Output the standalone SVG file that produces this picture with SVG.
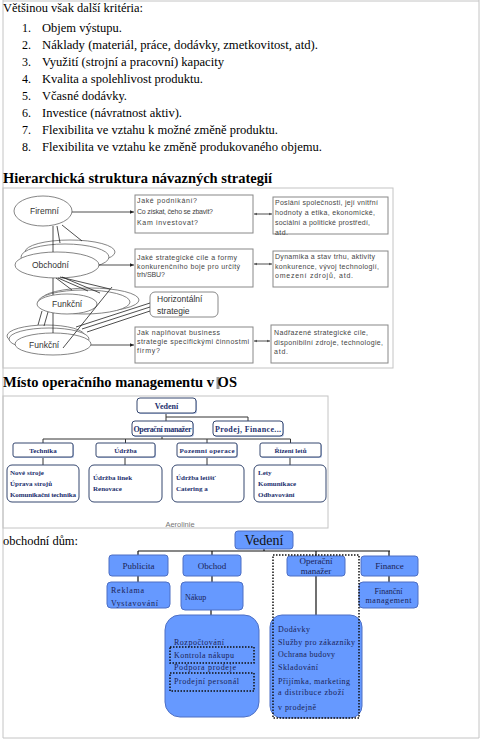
<svg xmlns="http://www.w3.org/2000/svg" width="481" height="741" viewBox="0 0 481 741">
<defs>
<marker id="ah" viewBox="0 0 6 6" refX="6" refY="3" markerWidth="5" markerHeight="5" orient="auto"><path d="M0,0.5 L6,3 L0,5.5 z" fill="#222"/></marker>
<marker id="ah2" viewBox="0 0 6 6" refX="6" refY="3" markerWidth="4" markerHeight="4" orient="auto-start-reverse"><path d="M0,0.5 L6,3 L0,5.5 z" fill="#555"/></marker>
<style>
.t12{font-family:"Liberation Serif","Times New Roman",serif;font-size:12px;fill:#000}
.h{font-family:"Liberation Serif","Times New Roman",serif;font-weight:bold;font-size:14px;fill:#000}
.hs{font-family:"Liberation Sans",Arial,sans-serif;font-size:7px;fill:#444}
.hl{font-family:"Liberation Sans",Arial,sans-serif;font-size:8.5px;fill:#333}
.hbox{fill:#fff;stroke:#888;stroke-width:1}
.ell{fill:#fff;stroke:#666;stroke-width:0.8}
.conn{stroke:#222;stroke-width:0.8;fill:none}
.frame{fill:none;stroke:#c4c4c4;stroke-width:1}
.obox{fill:#fff;stroke:#34466f;stroke-width:1}
.osh{fill:#b4c4e4}
.ot{font-family:"Liberation Serif","Times New Roman",serif;font-weight:bold;fill:#1c2f6e;font-size:8px}
.ot2{font-family:"Liberation Serif","Times New Roman",serif;font-weight:bold;fill:#1c2f6e;font-size:7px}
.oc{stroke:#333;stroke-width:1;fill:none}
.bbox{fill:#6699ff;stroke:#4d6fc4;stroke-width:1}
.bt{font-family:"Liberation Serif","Times New Roman",serif;fill:#1a1f55;font-size:8px}
.bth{font-family:"Liberation Serif","Times New Roman",serif;fill:#1a1f55;font-size:9px}
.dot{fill:none;stroke:#111;stroke-width:1.5;stroke-dasharray:1.5 1.5}
.bc{stroke:#111;stroke-width:1.2;fill:none}
</style>
</defs>
<rect width="481" height="741" fill="#fff"/>
<!-- page frame -->
<g id="page-frame">
<line x1="3" y1="1" x2="479" y2="1" class="frame"/>
<line x1="3" y1="0" x2="3" y2="738" class="frame"/>
<line x1="479" y1="0" x2="479" y2="738" class="frame"/>
<line x1="3" y1="738" x2="479" y2="738" class="frame"/>
</g>
<!-- top text -->
<g id="criteria">
<text x="3" y="12" class="t12" textLength="140" lengthAdjust="spacingAndGlyphs">Většinou však další kritéria:</text>
<text x="22" y="32" class="t12">1.</text><text x="42" y="32" class="t12" textLength="80" lengthAdjust="spacingAndGlyphs">Objem výstupu.</text>
<text x="22" y="49" class="t12">2.</text><text x="42" y="49" class="t12" textLength="276" lengthAdjust="spacingAndGlyphs">Náklady (materiál, práce, dodávky, zmetkovitost, atd).</text>
<text x="22" y="66" class="t12">3.</text><text x="42" y="66" class="t12" textLength="182" lengthAdjust="spacingAndGlyphs">Využití (strojní a pracovní) kapacity</text>
<text x="22" y="83" class="t12">4.</text><text x="42" y="83" class="t12" textLength="161" lengthAdjust="spacingAndGlyphs">Kvalita a spolehlivost produktu.</text>
<text x="22" y="100" class="t12">5.</text><text x="42" y="100" class="t12" textLength="85" lengthAdjust="spacingAndGlyphs">Včasné dodávky.</text>
<text x="22" y="117" class="t12">6.</text><text x="42" y="117" class="t12" textLength="140" lengthAdjust="spacingAndGlyphs">Investice (návratnost aktiv).</text>
<text x="22" y="134" class="t12">7.</text><text x="42" y="134" class="t12" textLength="236" lengthAdjust="spacingAndGlyphs">Flexibilita ve vztahu k možné změně produktu.</text>
<text x="22" y="151" class="t12">8.</text><text x="42" y="151" class="t12" textLength="280" lengthAdjust="spacingAndGlyphs">Flexibilita ve vztahu ke změně produkovaného objemu.</text>
</g>
<text x="3" y="183" class="h" textLength="269" lengthAdjust="spacingAndGlyphs">Hierarchická struktura návazných strategií</text>
<!-- hierarchy diagram -->
<rect x="3" y="188" width="390" height="180" class="frame"/>
<g id="h-firemni"><ellipse cx="43" cy="211" rx="29" ry="15" class="ell"/><text x="30" y="214" class="hl">Firemní</text></g>
<g id="h-obchodni">
<ellipse cx="70" cy="252" rx="45" ry="12" class="ell"/>
<ellipse cx="65" cy="257" rx="44" ry="13" class="ell"/>
<ellipse cx="57" cy="265" rx="42" ry="13" class="ell"/>
<text x="32" y="268" class="hl">Obchodní</text></g>
<g id="h-funkcni1">
<ellipse cx="90" cy="300" rx="49" ry="12" class="ell"/>
<ellipse cx="84" cy="302" rx="46" ry="12" class="ell"/>
<ellipse cx="67" cy="304" rx="30" ry="10" class="ell"/>
<text x="52" y="307" class="hl">Funkční</text></g>
<g id="h-funkcni2">
<ellipse cx="46" cy="336" rx="39" ry="11" class="ell"/>
<ellipse cx="49" cy="339" rx="40" ry="11" class="ell"/>
<ellipse cx="53" cy="344" rx="38" ry="11" class="ell"/>
<text x="29" y="348" class="hl">Funkční</text></g>
<g id="h-horizontalni"><rect x="150" y="292" width="68" height="25" rx="5" class="hbox"/>
<text x="157" y="302" class="hl">Horizontální</text><text x="157" y="314" class="hl">strategie</text></g>
<g id="h-b1"><rect x="135" y="195" width="118" height="38" class="hbox"/>
<text x="137" y="203" class="hs" textLength="60">Jaké podnikání?</text>
<text x="137" y="214" class="hs" textLength="76">Co získat, čeho se zbavit?</text>
<text x="137" y="224.5" class="hs" textLength="61">Kam investovat?</text></g>
<g id="h-b2"><rect x="273" y="197" width="115" height="37" class="hbox"/>
<text x="275" y="204.5" class="hs" textLength="103">Poslání společnosti, její vnitřní</text>
<text x="275" y="214.5" class="hs" textLength="100">hodnoty a etika, ekonomické,</text>
<text x="275" y="224.5" class="hs" textLength="95">sociální a politické prostředí,</text>
<text x="275" y="234.5" class="hs" textLength="13">atd.</text></g>
<g id="h-b3"><rect x="135" y="249" width="118" height="38" class="hbox"/>
<text x="137" y="259.5" class="hs" textLength="100">Jaké strategické cíle a formy</text>
<text x="137" y="268.5" class="hs" textLength="103">konkurenčního boje pro určitý</text>
<text x="137" y="277" class="hs" textLength="28">trh/SBU?</text></g>
<g id="h-b4"><rect x="273" y="251" width="115" height="36" class="hbox"/>
<text x="275" y="258.5" class="hs" textLength="100">Dynamika a stav trhu, aktivity</text>
<text x="275" y="268.5" class="hs" textLength="104">konkurence, vývoj technologií,</text>
<text x="275" y="277.5" class="hs" textLength="78">omezení zdrojů, atd.</text></g>
<g id="h-b5"><rect x="135" y="327" width="118" height="36" class="hbox"/>
<text x="137" y="334.5" class="hs" textLength="83">Jak naplňovat business</text>
<text x="137" y="343.5" class="hs" textLength="112">strategie specifickými činnostmi</text>
<text x="137" y="352.5" class="hs" textLength="23">firmy?</text></g>
<g id="h-b6"><rect x="271" y="325" width="117" height="38" class="hbox"/>
<text x="274" y="334.5" class="hs" textLength="94">Nadřazené strategické cíle,</text>
<text x="274" y="344.5" class="hs" textLength="109">disponibilní zdroje, technologie,</text>
<text x="274" y="353.5" class="hs" textLength="14">atd.</text></g>
<g id="h-connectors">
<line x1="53" y1="226" x2="53" y2="252" class="conn"/>
<line x1="57" y1="226" x2="60" y2="243" class="conn"/>
<line x1="62" y1="225" x2="82" y2="241" class="conn"/>
<line x1="53" y1="278" x2="53" y2="295" class="conn"/>
<line x1="56" y1="278" x2="72" y2="290" class="conn"/>
<line x1="58" y1="278" x2="88" y2="291" class="conn"/>
<line x1="60" y1="277" x2="110" y2="289" class="conn"/>
<line x1="62" y1="277" x2="100" y2="293" class="conn"/>
<line x1="53" y1="313" x2="53" y2="333" class="conn"/>
<line x1="38" y1="325" x2="42" y2="311" class="conn"/>
<line x1="44" y1="326" x2="48" y2="312" class="conn"/>
<line x1="76" y1="327" x2="150" y2="303" class="conn"/>
<line x1="82" y1="329" x2="150" y2="307" class="conn"/>
<line x1="87" y1="332" x2="150" y2="311" class="conn"/>
<line x1="112" y1="287" x2="63" y2="348" class="conn"/>
<line x1="72" y1="212" x2="134" y2="212" class="conn" marker-end="url(#ah)"/>
<line x1="99" y1="265" x2="134" y2="265" class="conn" marker-end="url(#ah)"/>
<line x1="91" y1="345" x2="134" y2="345" class="conn" marker-end="url(#ah)"/>
<line x1="254" y1="214" x2="272" y2="214" class="conn" stroke="#555" marker-start="url(#ah2)" marker-end="url(#ah2)"/>
<line x1="254" y1="264" x2="272" y2="264" class="conn" stroke="#555" marker-start="url(#ah2)" marker-end="url(#ah2)"/>
<line x1="254" y1="341" x2="270" y2="341" class="conn" stroke="#555" marker-start="url(#ah2)" marker-end="url(#ah2)"/>
</g>
<!-- OS heading -->
<rect x="216.5" y="377" width="3" height="12" fill="#9a9a9a"/>
<text x="3" y="387" class="h" textLength="234" lengthAdjust="spacingAndGlyphs">Místo operačního managementu v OS</text>
<!-- OS diagram -->
<rect x="3" y="396" width="325" height="132" class="frame"/>
<g id="os-connectors">
<line x1="166" y1="413" x2="166" y2="421" class="oc"/>
<polyline points="166,417 248,417 248,421" class="oc"/>
<line x1="162" y1="436" x2="162" y2="439" class="oc"/>
<line x1="43" y1="439" x2="290.5" y2="439" class="oc"/>
<line x1="43" y1="439" x2="43" y2="443" class="oc"/>
<line x1="125.5" y1="439" x2="125.5" y2="443" class="oc"/>
<line x1="207" y1="439" x2="207" y2="443" class="oc"/>
<line x1="290.5" y1="439" x2="290.5" y2="443" class="oc"/>
<line x1="43" y1="457" x2="43" y2="465" class="oc"/>
<line x1="125" y1="457" x2="125" y2="465" class="oc"/>
<line x1="207" y1="457" x2="207" y2="465" class="oc"/>
<line x1="290" y1="457" x2="290" y2="465" class="oc"/>
</g>
<g id="os-vedeni"><rect x="138" y="399" width="59" height="15" rx="3" class="osh"/><rect x="137" y="398" width="59" height="15" rx="3" class="obox"/><text x="166.5" y="409" class="ot" text-anchor="middle" font-size="8.5">Vedení</text></g>
<g id="os-operacni"><rect x="133" y="422" width="61" height="15" rx="3" class="osh"/><rect x="132" y="421" width="61" height="15" rx="3" class="obox"/><text x="162.5" y="432" class="ot" text-anchor="middle" textLength="58">Operační manažer</text></g>
<g id="os-prodej"><rect x="214" y="422" width="70" height="15" rx="3" class="osh"/><rect x="213" y="421" width="70" height="15" rx="3" class="obox"/><text x="248" y="432" class="ot" text-anchor="middle" textLength="66">Prodej, Finance...</text></g>
<g id="os-technika"><rect x="14" y="444" width="60" height="14" rx="2" class="osh"/><rect x="13" y="443" width="60" height="14" rx="2" class="obox"/><text x="43" y="453" class="ot2" text-anchor="middle">Technika</text></g>
<g id="os-udrzba"><rect x="97" y="444" width="59" height="14" rx="2" class="osh"/><rect x="96" y="443" width="59" height="14" rx="2" class="obox"/><text x="125.5" y="453" class="ot2" text-anchor="middle">Údržba</text></g>
<g id="os-pozemni"><rect x="178" y="444" width="60" height="14" rx="2" class="osh"/><rect x="177" y="443" width="60" height="14" rx="2" class="obox"/><text x="207" y="453" class="ot2" text-anchor="middle" textLength="55">Pozemní operace</text></g>
<g id="os-rizeni"><rect x="261" y="444" width="61" height="14" rx="2" class="osh"/><rect x="260" y="443" width="61" height="14" rx="2" class="obox"/><text x="290.5" y="453" class="ot2" text-anchor="middle">Řízení letů</text></g>
<g id="os-a"><rect x="7" y="465" width="72" height="37" rx="5" class="obox"/>
<text x="10" y="475" class="ot2">Nové stroje</text><text x="10" y="486" class="ot2">Úprava strojů</text><text x="10" y="496.5" class="ot2" textLength="66">Komunikační technika</text></g>
<g id="os-b"><rect x="89" y="465" width="73" height="37" rx="5" class="obox"/>
<text x="93" y="480" class="ot2">Údržba linek</text><text x="93" y="491" class="ot2">Renovace</text></g>
<g id="os-c"><rect x="172" y="465" width="72" height="37" rx="5" class="obox"/>
<text x="176" y="480" class="ot2">Údržba letišť</text><text x="176" y="491" class="ot2">Catering a</text></g>
<g id="os-d"><rect x="254" y="465" width="72" height="37" rx="5" class="obox"/>
<text x="258" y="475" class="ot2">Lety</text><text x="258" y="486" class="ot2">Komunikace</text><text x="258" y="496.5" class="ot2">Odbavování</text></g>
<text x="180" y="526.5" font-family="Liberation Sans, Arial, sans-serif" font-size="7.5" fill="#777" text-anchor="middle">Aerolinie</text>
<!-- obchodní dům -->
<text x="3" y="545" class="t12" textLength="75" lengthAdjust="spacingAndGlyphs">obchodní dům:</text>
<g id="od-connectors">
<line x1="264" y1="549" x2="264" y2="551" class="bc"/>
<line x1="138" y1="551" x2="390" y2="551" class="bc"/>
<line x1="138" y1="551" x2="138" y2="555" class="bc"/>
<line x1="212" y1="551" x2="212" y2="555" class="bc"/>
<line x1="316" y1="551" x2="316" y2="556" class="bc"/>
<line x1="389" y1="551" x2="389" y2="556" class="bc"/>
<line x1="138" y1="576" x2="138" y2="582" class="bc"/>
<line x1="212" y1="576" x2="212" y2="582" class="bc"/>
<line x1="389" y1="576" x2="389" y2="582" class="bc"/>
<line x1="211" y1="610" x2="211" y2="615" class="bc"/>
<line x1="316" y1="576" x2="316" y2="615" class="bc"/>
</g>
<g id="od-vedeni"><rect x="235" y="531" width="58" height="18" rx="3" class="bbox"/><text x="264" y="545" font-family="Liberation Serif, Times New Roman, serif" font-size="14" fill="#111" text-anchor="middle">Vedení</text></g>
<g id="od-publicita"><rect x="109" y="555" width="59" height="21" rx="3" class="bbox"/><text x="138.5" y="569" class="bth" text-anchor="middle">Publicita</text></g>
<g id="od-obchod"><rect x="183" y="555" width="58" height="21" rx="3" class="bbox"/><text x="212" y="569" class="bth" text-anchor="middle">Obchod</text></g>
<g id="od-operacni"><rect x="287" y="556" width="58" height="20" rx="3" class="bbox"/><text x="316" y="563.5" class="bth" text-anchor="middle">Operační</text><text x="316" y="574" class="bth" text-anchor="middle">manažer</text></g>
<g id="od-finance"><rect x="361" y="556" width="57" height="20" rx="3" class="bbox"/><text x="389.5" y="569" class="bth" text-anchor="middle">Finance</text></g>
<g id="od-reklama"><rect x="107" y="582" width="63" height="26" rx="4" class="bbox"/><text x="111" y="593" class="bt" textLength="33">Reklama</text><text x="111" y="606" class="bt" textLength="47">Vystavování</text></g>
<g id="od-nakup"><rect x="181" y="582" width="62" height="28" rx="4" class="bbox"/><text x="185" y="600" class="bt">Nákup</text></g>
<g id="od-financni"><rect x="359" y="582" width="59" height="26" rx="4" class="bbox"/><text x="388.5" y="594" class="bt" text-anchor="middle">Finanční</text><text x="388.5" y="603" class="bt" text-anchor="middle" textLength="46">management</text></g>
<g id="od-rozpocet"><rect x="165" y="615" width="94" height="102" rx="15" class="bbox"/>
<text x="174" y="645" class="bt" textLength="50">Rozpočtování</text>
<rect x="170" y="647" width="84" height="16" class="dot"/>
<text x="174" y="658" class="bt" textLength="60">Kontrola nákupu</text>
<text x="174" y="670" class="bt" textLength="62">Podpora prodeje</text>
<rect x="170" y="673" width="84" height="18" class="dot"/>
<text x="174" y="684" class="bt" textLength="65">Prodejní personál</text></g>
<g id="od-operace"><rect x="270" y="615" width="92" height="103" rx="12" class="bbox"/>
<text x="278" y="632" class="bt" textLength="32">Dodávky</text>
<text x="278" y="645" class="bt" textLength="77">Služby pro zákazníky</text>
<text x="278" y="657" class="bt" textLength="57">Ochrana budovy</text>
<text x="278" y="670" class="bt" textLength="40">Skladování</text>
<text x="278" y="684" class="bt" textLength="72">Přijímka, marketing</text>
<text x="278" y="695" class="bt" textLength="66">a distribuce zboží</text>
<text x="278" y="710" class="bt" textLength="38">v prodejně</text></g>
<rect x="273" y="555" width="86" height="163" class="dot" id="od-dotted"/>
</svg>
